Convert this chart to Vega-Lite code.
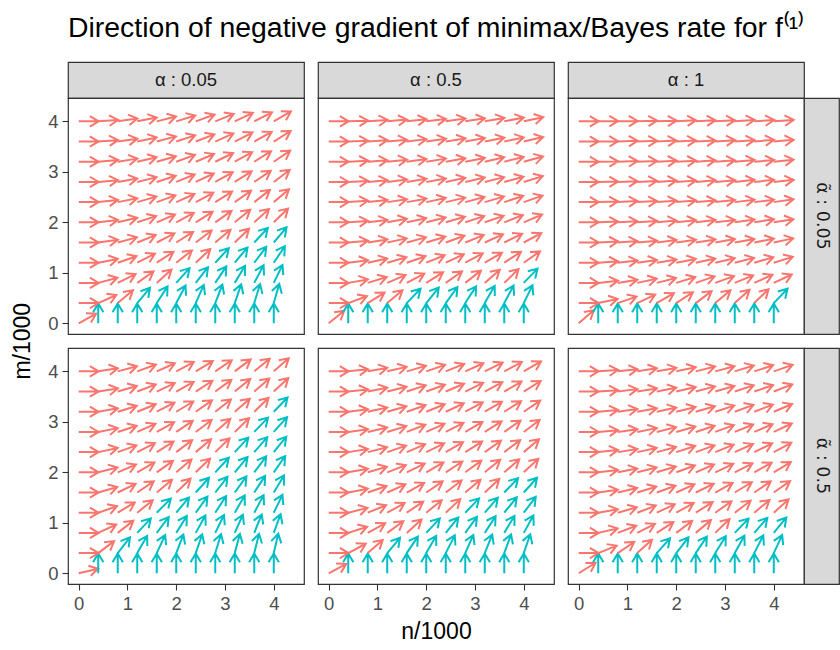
{
"$schema":"https://vega.github.io/schema/vega-lite/v6.json",
"title":{"text":"Direction of negative gradient of minimax/Bayes rate for f⁽¹⁾","anchor":"start","frame":"group","fontSize":28.4,"font":"Liberation Sans","fontWeight":"normal","color":"#000000","offset":18},
"padding":{"left":11,"top":14,"right":0,"bottom":0},
"datasets":{
"p1":[
{"n":0,"m":0,"d":29,"g":"n"},{"n":0.4,"m":0,"d":90,"g":"m"},{"n":0.8,"m":0,"d":90,"g":"m"},{"n":1.2,"m":0,"d":90,"g":"m"},{"n":1.6,"m":0,"d":90,"g":"m"},{"n":2,"m":0,"d":90,"g":"m"},{"n":2.4,"m":0,"d":90,"g":"m"},{"n":2.8,"m":0,"d":90,"g":"m"},{"n":3.2,"m":0,"d":90,"g":"m"},{"n":3.6,"m":0,"d":90,"g":"m"},{"n":4,"m":0,"d":90,"g":"m"},
{"n":0,"m":0.4,"d":0,"g":"n"},{"n":0.4,"m":0.4,"d":24,"g":"n"},{"n":0.8,"m":0.4,"d":40,"g":"n"},{"n":1.2,"m":0.4,"d":50,"g":"m"},{"n":1.6,"m":0.4,"d":57,"g":"m"},{"n":2,"m":0.4,"d":62,"g":"m"},{"n":2.4,"m":0.4,"d":66,"g":"m"},{"n":2.8,"m":0.4,"d":69,"g":"m"},{"n":3.2,"m":0.4,"d":71,"g":"m"},{"n":3.6,"m":0.4,"d":73,"g":"m"},{"n":4,"m":0.4,"d":74,"g":"m"},
{"n":0,"m":0.8,"d":0,"g":"n"},{"n":0.4,"m":0.8,"d":15,"g":"n"},{"n":0.8,"m":0.8,"d":26,"g":"n"},{"n":1.2,"m":0.8,"d":35,"g":"n"},{"n":1.6,"m":0.8,"d":42,"g":"n"},{"n":2,"m":0.8,"d":48,"g":"m"},{"n":2.4,"m":0.8,"d":52,"g":"m"},{"n":2.8,"m":0.8,"d":56,"g":"m"},{"n":3.2,"m":0.8,"d":59,"g":"m"},{"n":3.6,"m":0.8,"d":62,"g":"m"},{"n":4,"m":0.8,"d":64,"g":"m"},
{"n":0,"m":1.2,"d":0,"g":"n"},{"n":0.4,"m":1.2,"d":11,"g":"n"},{"n":0.8,"m":1.2,"d":19,"g":"n"},{"n":1.2,"m":1.2,"d":27,"g":"n"},{"n":1.6,"m":1.2,"d":33,"g":"n"},{"n":2,"m":1.2,"d":38,"g":"n"},{"n":2.4,"m":1.2,"d":43,"g":"n"},{"n":2.8,"m":1.2,"d":47,"g":"m"},{"n":3.2,"m":1.2,"d":50,"g":"m"},{"n":3.6,"m":1.2,"d":53,"g":"m"},{"n":4,"m":1.2,"d":56,"g":"m"},
{"n":0,"m":1.6,"d":0,"g":"n"},{"n":0.4,"m":1.6,"d":8,"g":"n"},{"n":0.8,"m":1.6,"d":15,"g":"n"},{"n":1.2,"m":1.6,"d":22,"g":"n"},{"n":1.6,"m":1.6,"d":27,"g":"n"},{"n":2,"m":1.6,"d":32,"g":"n"},{"n":2.4,"m":1.6,"d":37,"g":"n"},{"n":2.8,"m":1.6,"d":40,"g":"n"},{"n":3.2,"m":1.6,"d":44,"g":"n"},{"n":3.6,"m":1.6,"d":47,"g":"m"},{"n":4,"m":1.6,"d":50,"g":"m"},
{"n":0,"m":2,"d":0,"g":"n"},{"n":0.4,"m":2,"d":7,"g":"n"},{"n":0.8,"m":2,"d":13,"g":"n"},{"n":1.2,"m":2,"d":18,"g":"n"},{"n":1.6,"m":2,"d":23,"g":"n"},{"n":2,"m":2,"d":28,"g":"n"},{"n":2.4,"m":2,"d":32,"g":"n"},{"n":2.8,"m":2,"d":35,"g":"n"},{"n":3.2,"m":2,"d":39,"g":"n"},{"n":3.6,"m":2,"d":42,"g":"n"},{"n":4,"m":2,"d":44,"g":"n"},
{"n":0,"m":2.4,"d":0,"g":"n"},{"n":0.4,"m":2.4,"d":6,"g":"n"},{"n":0.8,"m":2.4,"d":11,"g":"n"},{"n":1.2,"m":2.4,"d":16,"g":"n"},{"n":1.6,"m":2.4,"d":20,"g":"n"},{"n":2,"m":2.4,"d":24,"g":"n"},{"n":2.4,"m":2.4,"d":28,"g":"n"},{"n":2.8,"m":2.4,"d":32,"g":"n"},{"n":3.2,"m":2.4,"d":35,"g":"n"},{"n":3.6,"m":2.4,"d":38,"g":"n"},{"n":4,"m":2.4,"d":40,"g":"n"},
{"n":0,"m":2.8,"d":0,"g":"n"},{"n":0.4,"m":2.8,"d":5,"g":"n"},{"n":0.8,"m":2.8,"d":10,"g":"n"},{"n":1.2,"m":2.8,"d":14,"g":"n"},{"n":1.6,"m":2.8,"d":18,"g":"n"},{"n":2,"m":2.8,"d":22,"g":"n"},{"n":2.4,"m":2.8,"d":25,"g":"n"},{"n":2.8,"m":2.8,"d":29,"g":"n"},{"n":3.2,"m":2.8,"d":32,"g":"n"},{"n":3.6,"m":2.8,"d":34,"g":"n"},{"n":4,"m":2.8,"d":37,"g":"n"},
{"n":0,"m":3.2,"d":0,"g":"n"},{"n":0.4,"m":3.2,"d":5,"g":"n"},{"n":0.8,"m":3.2,"d":9,"g":"n"},{"n":1.2,"m":3.2,"d":13,"g":"n"},{"n":1.6,"m":3.2,"d":16,"g":"n"},{"n":2,"m":3.2,"d":20,"g":"n"},{"n":2.4,"m":3.2,"d":23,"g":"n"},{"n":2.8,"m":3.2,"d":26,"g":"n"},{"n":3.2,"m":3.2,"d":29,"g":"n"},{"n":3.6,"m":3.2,"d":32,"g":"n"},{"n":4,"m":3.2,"d":34,"g":"n"},
{"n":0,"m":3.6,"d":0,"g":"n"},{"n":0.4,"m":3.6,"d":4,"g":"n"},{"n":0.8,"m":3.6,"d":8,"g":"n"},{"n":1.2,"m":3.6,"d":12,"g":"n"},{"n":1.6,"m":3.6,"d":15,"g":"n"},{"n":2,"m":3.6,"d":18,"g":"n"},{"n":2.4,"m":3.6,"d":21,"g":"n"},{"n":2.8,"m":3.6,"d":24,"g":"n"},{"n":3.2,"m":3.6,"d":27,"g":"n"},{"n":3.6,"m":3.6,"d":29,"g":"n"},{"n":4,"m":3.6,"d":32,"g":"n"},
{"n":0,"m":4,"d":0,"g":"n"},{"n":0.4,"m":4,"d":4,"g":"n"},{"n":0.8,"m":4,"d":8,"g":"n"},{"n":1.2,"m":4,"d":11,"g":"n"},{"n":1.6,"m":4,"d":14,"g":"n"},{"n":2,"m":4,"d":17,"g":"n"},{"n":2.4,"m":4,"d":20,"g":"n"},{"n":2.8,"m":4,"d":22,"g":"n"},{"n":3.2,"m":4,"d":25,"g":"n"},{"n":3.6,"m":4,"d":27,"g":"n"},{"n":4,"m":4,"d":30,"g":"n"}
],
"p2":[
{"n":0,"m":0,"d":39,"g":"n"},{"n":0.4,"m":0,"d":90,"g":"m"},{"n":0.8,"m":0,"d":90,"g":"m"},{"n":1.2,"m":0,"d":90,"g":"m"},{"n":1.6,"m":0,"d":90,"g":"m"},{"n":2,"m":0,"d":90,"g":"m"},{"n":2.4,"m":0,"d":90,"g":"m"},{"n":2.8,"m":0,"d":90,"g":"m"},{"n":3.2,"m":0,"d":90,"g":"m"},{"n":3.6,"m":0,"d":90,"g":"m"},{"n":4,"m":0,"d":90,"g":"m"},
{"n":0,"m":0.4,"d":0,"g":"n"},{"n":0.4,"m":0.4,"d":20,"g":"n"},{"n":0.8,"m":0.4,"d":32,"g":"n"},{"n":1.2,"m":0.4,"d":40,"g":"n"},{"n":1.6,"m":0.4,"d":46,"g":"m"},{"n":2,"m":0.4,"d":51,"g":"m"},{"n":2.4,"m":0.4,"d":54,"g":"m"},{"n":2.8,"m":0.4,"d":57,"g":"m"},{"n":3.2,"m":0.4,"d":60,"g":"m"},{"n":3.6,"m":0.4,"d":62,"g":"m"},{"n":4,"m":0.4,"d":64,"g":"m"},
{"n":0,"m":0.8,"d":0,"g":"n"},{"n":0.4,"m":0.8,"d":10,"g":"n"},{"n":0.8,"m":0.8,"d":17,"g":"n"},{"n":1.2,"m":0.8,"d":23,"g":"n"},{"n":1.6,"m":0.8,"d":28,"g":"n"},{"n":2,"m":0.8,"d":32,"g":"n"},{"n":2.4,"m":0.8,"d":35,"g":"n"},{"n":2.8,"m":0.8,"d":38,"g":"n"},{"n":3.2,"m":0.8,"d":41,"g":"n"},{"n":3.6,"m":0.8,"d":44,"g":"n"},{"n":4,"m":0.8,"d":46,"g":"m"},
{"n":0,"m":1.2,"d":0,"g":"n"},{"n":0.4,"m":1.2,"d":7,"g":"n"},{"n":0.8,"m":1.2,"d":12,"g":"n"},{"n":1.2,"m":1.2,"d":16,"g":"n"},{"n":1.6,"m":1.2,"d":19,"g":"n"},{"n":2,"m":1.2,"d":22,"g":"n"},{"n":2.4,"m":1.2,"d":25,"g":"n"},{"n":2.8,"m":1.2,"d":28,"g":"n"},{"n":3.2,"m":1.2,"d":30,"g":"n"},{"n":3.6,"m":1.2,"d":33,"g":"n"},{"n":4,"m":1.2,"d":35,"g":"n"},
{"n":0,"m":1.6,"d":0,"g":"n"},{"n":0.4,"m":1.6,"d":5,"g":"n"},{"n":0.8,"m":1.6,"d":9,"g":"n"},{"n":1.2,"m":1.6,"d":12,"g":"n"},{"n":1.6,"m":1.6,"d":15,"g":"n"},{"n":2,"m":1.6,"d":17,"g":"n"},{"n":2.4,"m":1.6,"d":20,"g":"n"},{"n":2.8,"m":1.6,"d":22,"g":"n"},{"n":3.2,"m":1.6,"d":24,"g":"n"},{"n":3.6,"m":1.6,"d":26,"g":"n"},{"n":4,"m":1.6,"d":28,"g":"n"},
{"n":0,"m":2,"d":0,"g":"n"},{"n":0.4,"m":2,"d":4,"g":"n"},{"n":0.8,"m":2,"d":7,"g":"n"},{"n":1.2,"m":2,"d":10,"g":"n"},{"n":1.6,"m":2,"d":12,"g":"n"},{"n":2,"m":2,"d":14,"g":"n"},{"n":2.4,"m":2,"d":16,"g":"n"},{"n":2.8,"m":2,"d":18,"g":"n"},{"n":3.2,"m":2,"d":19,"g":"n"},{"n":3.6,"m":2,"d":21,"g":"n"},{"n":4,"m":2,"d":23,"g":"n"},
{"n":0,"m":2.4,"d":0,"g":"n"},{"n":0.4,"m":2.4,"d":4,"g":"n"},{"n":0.8,"m":2.4,"d":6,"g":"n"},{"n":1.2,"m":2.4,"d":8,"g":"n"},{"n":1.6,"m":2.4,"d":10,"g":"n"},{"n":2,"m":2.4,"d":12,"g":"n"},{"n":2.4,"m":2.4,"d":13,"g":"n"},{"n":2.8,"m":2.4,"d":15,"g":"n"},{"n":3.2,"m":2.4,"d":16,"g":"n"},{"n":3.6,"m":2.4,"d":18,"g":"n"},{"n":4,"m":2.4,"d":19,"g":"n"},
{"n":0,"m":2.8,"d":0,"g":"n"},{"n":0.4,"m":2.8,"d":3,"g":"n"},{"n":0.8,"m":2.8,"d":5,"g":"n"},{"n":1.2,"m":2.8,"d":7,"g":"n"},{"n":1.6,"m":2.8,"d":9,"g":"n"},{"n":2,"m":2.8,"d":10,"g":"n"},{"n":2.4,"m":2.8,"d":12,"g":"n"},{"n":2.8,"m":2.8,"d":13,"g":"n"},{"n":3.2,"m":2.8,"d":14,"g":"n"},{"n":3.6,"m":2.8,"d":15,"g":"n"},{"n":4,"m":2.8,"d":17,"g":"n"},
{"n":0,"m":3.2,"d":0,"g":"n"},{"n":0.4,"m":3.2,"d":3,"g":"n"},{"n":0.8,"m":3.2,"d":4,"g":"n"},{"n":1.2,"m":3.2,"d":6,"g":"n"},{"n":1.6,"m":3.2,"d":8,"g":"n"},{"n":2,"m":3.2,"d":9,"g":"n"},{"n":2.4,"m":3.2,"d":10,"g":"n"},{"n":2.8,"m":3.2,"d":11,"g":"n"},{"n":3.2,"m":3.2,"d":13,"g":"n"},{"n":3.6,"m":3.2,"d":14,"g":"n"},{"n":4,"m":3.2,"d":15,"g":"n"},
{"n":0,"m":3.6,"d":0,"g":"n"},{"n":0.4,"m":3.6,"d":2,"g":"n"},{"n":0.8,"m":3.6,"d":4,"g":"n"},{"n":1.2,"m":3.6,"d":5,"g":"n"},{"n":1.6,"m":3.6,"d":7,"g":"n"},{"n":2,"m":3.6,"d":8,"g":"n"},{"n":2.4,"m":3.6,"d":9,"g":"n"},{"n":2.8,"m":3.6,"d":10,"g":"n"},{"n":3.2,"m":3.6,"d":11,"g":"n"},{"n":3.6,"m":3.6,"d":12,"g":"n"},{"n":4,"m":3.6,"d":13,"g":"n"},
{"n":0,"m":4,"d":0,"g":"n"},{"n":0.4,"m":4,"d":2,"g":"n"},{"n":0.8,"m":4,"d":4,"g":"n"},{"n":1.2,"m":4,"d":5,"g":"n"},{"n":1.6,"m":4,"d":6,"g":"n"},{"n":2,"m":4,"d":7,"g":"n"},{"n":2.4,"m":4,"d":8,"g":"n"},{"n":2.8,"m":4,"d":9,"g":"n"},{"n":3.2,"m":4,"d":10,"g":"n"},{"n":3.6,"m":4,"d":11,"g":"n"},{"n":4,"m":4,"d":12,"g":"n"}
],
"p3":[
{"n":0,"m":0,"d":41,"g":"n"},{"n":0.4,"m":0,"d":90,"g":"m"},{"n":0.8,"m":0,"d":90,"g":"m"},{"n":1.2,"m":0,"d":90,"g":"m"},{"n":1.6,"m":0,"d":90,"g":"m"},{"n":2,"m":0,"d":90,"g":"m"},{"n":2.4,"m":0,"d":90,"g":"m"},{"n":2.8,"m":0,"d":90,"g":"m"},{"n":3.2,"m":0,"d":90,"g":"m"},{"n":3.6,"m":0,"d":90,"g":"m"},{"n":4,"m":0,"d":90,"g":"m"},
{"n":0,"m":0.4,"d":0,"g":"n"},{"n":0.4,"m":0.4,"d":12,"g":"n"},{"n":0.8,"m":0.4,"d":19,"g":"n"},{"n":1.2,"m":0.4,"d":25,"g":"n"},{"n":1.6,"m":0.4,"d":30,"g":"n"},{"n":2,"m":0.4,"d":33,"g":"n"},{"n":2.4,"m":0.4,"d":37,"g":"n"},{"n":2.8,"m":0.4,"d":40,"g":"n"},{"n":3.2,"m":0.4,"d":42,"g":"n"},{"n":3.6,"m":0.4,"d":44,"g":"n"},{"n":4,"m":0.4,"d":46,"g":"m"},
{"n":0,"m":0.8,"d":0,"g":"n"},{"n":0.4,"m":0.8,"d":6,"g":"n"},{"n":0.8,"m":0.8,"d":9,"g":"n"},{"n":1.2,"m":0.8,"d":12,"g":"n"},{"n":1.6,"m":0.8,"d":14,"g":"n"},{"n":2,"m":0.8,"d":17,"g":"n"},{"n":2.4,"m":0.8,"d":19,"g":"n"},{"n":2.8,"m":0.8,"d":20,"g":"n"},{"n":3.2,"m":0.8,"d":22,"g":"n"},{"n":3.6,"m":0.8,"d":24,"g":"n"},{"n":4,"m":0.8,"d":25,"g":"n"},
{"n":0,"m":1.2,"d":0,"g":"n"},{"n":0.4,"m":1.2,"d":4,"g":"n"},{"n":0.8,"m":1.2,"d":6,"g":"n"},{"n":1.2,"m":1.2,"d":8,"g":"n"},{"n":1.6,"m":1.2,"d":9,"g":"n"},{"n":2,"m":1.2,"d":11,"g":"n"},{"n":2.4,"m":1.2,"d":12,"g":"n"},{"n":2.8,"m":1.2,"d":13,"g":"n"},{"n":3.2,"m":1.2,"d":14,"g":"n"},{"n":3.6,"m":1.2,"d":16,"g":"n"},{"n":4,"m":1.2,"d":17,"g":"n"},
{"n":0,"m":1.6,"d":0,"g":"n"},{"n":0.4,"m":1.6,"d":3,"g":"n"},{"n":0.8,"m":1.6,"d":4,"g":"n"},{"n":1.2,"m":1.6,"d":5,"g":"n"},{"n":1.6,"m":1.6,"d":7,"g":"n"},{"n":2,"m":1.6,"d":8,"g":"n"},{"n":2.4,"m":1.6,"d":9,"g":"n"},{"n":2.8,"m":1.6,"d":10,"g":"n"},{"n":3.2,"m":1.6,"d":10,"g":"n"},{"n":3.6,"m":1.6,"d":11,"g":"n"},{"n":4,"m":1.6,"d":12,"g":"n"},
{"n":0,"m":2,"d":0,"g":"n"},{"n":0.4,"m":2,"d":2,"g":"n"},{"n":0.8,"m":2,"d":3,"g":"n"},{"n":1.2,"m":2,"d":4,"g":"n"},{"n":1.6,"m":2,"d":5,"g":"n"},{"n":2,"m":2,"d":6,"g":"n"},{"n":2.4,"m":2,"d":7,"g":"n"},{"n":2.8,"m":2,"d":7,"g":"n"},{"n":3.2,"m":2,"d":8,"g":"n"},{"n":3.6,"m":2,"d":9,"g":"n"},{"n":4,"m":2,"d":9,"g":"n"},
{"n":0,"m":2.4,"d":0,"g":"n"},{"n":0.4,"m":2.4,"d":2,"g":"n"},{"n":0.8,"m":2.4,"d":3,"g":"n"},{"n":1.2,"m":2.4,"d":3,"g":"n"},{"n":1.6,"m":2.4,"d":4,"g":"n"},{"n":2,"m":2.4,"d":5,"g":"n"},{"n":2.4,"m":2.4,"d":5,"g":"n"},{"n":2.8,"m":2.4,"d":6,"g":"n"},{"n":3.2,"m":2.4,"d":7,"g":"n"},{"n":3.6,"m":2.4,"d":7,"g":"n"},{"n":4,"m":2.4,"d":8,"g":"n"},
{"n":0,"m":2.8,"d":0,"g":"n"},{"n":0.4,"m":2.8,"d":1,"g":"n"},{"n":0.8,"m":2.8,"d":2,"g":"n"},{"n":1.2,"m":2.8,"d":3,"g":"n"},{"n":1.6,"m":2.8,"d":4,"g":"n"},{"n":2,"m":2.8,"d":4,"g":"n"},{"n":2.4,"m":2.8,"d":5,"g":"n"},{"n":2.8,"m":2.8,"d":5,"g":"n"},{"n":3.2,"m":2.8,"d":6,"g":"n"},{"n":3.6,"m":2.8,"d":6,"g":"n"},{"n":4,"m":2.8,"d":6,"g":"n"},
{"n":0,"m":3.2,"d":0,"g":"n"},{"n":0.4,"m":3.2,"d":1,"g":"n"},{"n":0.8,"m":3.2,"d":2,"g":"n"},{"n":1.2,"m":3.2,"d":2,"g":"n"},{"n":1.6,"m":3.2,"d":3,"g":"n"},{"n":2,"m":3.2,"d":3,"g":"n"},{"n":2.4,"m":3.2,"d":4,"g":"n"},{"n":2.8,"m":3.2,"d":4,"g":"n"},{"n":3.2,"m":3.2,"d":5,"g":"n"},{"n":3.6,"m":3.2,"d":5,"g":"n"},{"n":4,"m":3.2,"d":6,"g":"n"},
{"n":0,"m":3.6,"d":0,"g":"n"},{"n":0.4,"m":3.6,"d":1,"g":"n"},{"n":0.8,"m":3.6,"d":2,"g":"n"},{"n":1.2,"m":3.6,"d":2,"g":"n"},{"n":1.6,"m":3.6,"d":3,"g":"n"},{"n":2,"m":3.6,"d":3,"g":"n"},{"n":2.4,"m":3.6,"d":3,"g":"n"},{"n":2.8,"m":3.6,"d":4,"g":"n"},{"n":3.2,"m":3.6,"d":4,"g":"n"},{"n":3.6,"m":3.6,"d":5,"g":"n"},{"n":4,"m":3.6,"d":5,"g":"n"},
{"n":0,"m":4,"d":0,"g":"n"},{"n":0.4,"m":4,"d":1,"g":"n"},{"n":0.8,"m":4,"d":1,"g":"n"},{"n":1.2,"m":4,"d":2,"g":"n"},{"n":1.6,"m":4,"d":2,"g":"n"},{"n":2,"m":4,"d":3,"g":"n"},{"n":2.4,"m":4,"d":3,"g":"n"},{"n":2.8,"m":4,"d":3,"g":"n"},{"n":3.2,"m":4,"d":4,"g":"n"},{"n":3.6,"m":4,"d":4,"g":"n"},{"n":4,"m":4,"d":4,"g":"n"}
],
"p4":[
{"n":0,"m":0,"d":13,"g":"n"},{"n":0.4,"m":0,"d":90,"g":"m"},{"n":0.8,"m":0,"d":90,"g":"m"},{"n":1.2,"m":0,"d":90,"g":"m"},{"n":1.6,"m":0,"d":90,"g":"m"},{"n":2,"m":0,"d":90,"g":"m"},{"n":2.4,"m":0,"d":90,"g":"m"},{"n":2.8,"m":0,"d":90,"g":"m"},{"n":3.2,"m":0,"d":90,"g":"m"},{"n":3.6,"m":0,"d":90,"g":"m"},{"n":4,"m":0,"d":90,"g":"m"},
{"n":0,"m":0.4,"d":0,"g":"n"},{"n":0.4,"m":0.4,"d":37,"g":"n"},{"n":0.8,"m":0.4,"d":52,"g":"m"},{"n":1.2,"m":0.4,"d":60,"g":"m"},{"n":1.6,"m":0.4,"d":65,"g":"m"},{"n":2,"m":0.4,"d":69,"g":"m"},{"n":2.4,"m":0.4,"d":71,"g":"m"},{"n":2.8,"m":0.4,"d":73,"g":"m"},{"n":3.2,"m":0.4,"d":75,"g":"m"},{"n":3.6,"m":0.4,"d":76,"g":"m"},{"n":4,"m":0.4,"d":77,"g":"m"},
{"n":0,"m":0.8,"d":0,"g":"n"},{"n":0.4,"m":0.8,"d":25,"g":"n"},{"n":0.8,"m":0.8,"d":38,"g":"n"},{"n":1.2,"m":0.8,"d":47,"g":"m"},{"n":1.6,"m":0.8,"d":53,"g":"m"},{"n":2,"m":0.8,"d":58,"g":"m"},{"n":2.4,"m":0.8,"d":61,"g":"m"},{"n":2.8,"m":0.8,"d":64,"g":"m"},{"n":3.2,"m":0.8,"d":66,"g":"m"},{"n":3.6,"m":0.8,"d":68,"g":"m"},{"n":4,"m":0.8,"d":70,"g":"m"},
{"n":0,"m":1.2,"d":0,"g":"n"},{"n":0.4,"m":1.2,"d":19,"g":"n"},{"n":0.8,"m":1.2,"d":31,"g":"n"},{"n":1.2,"m":1.2,"d":39,"g":"n"},{"n":1.6,"m":1.2,"d":45,"g":"m"},{"n":2,"m":1.2,"d":50,"g":"m"},{"n":2.4,"m":1.2,"d":54,"g":"m"},{"n":2.8,"m":1.2,"d":57,"g":"m"},{"n":3.2,"m":1.2,"d":60,"g":"m"},{"n":3.6,"m":1.2,"d":62,"g":"m"},{"n":4,"m":1.2,"d":64,"g":"m"},
{"n":0,"m":1.6,"d":0,"g":"n"},{"n":0.4,"m":1.6,"d":16,"g":"n"},{"n":0.8,"m":1.6,"d":26,"g":"n"},{"n":1.2,"m":1.6,"d":34,"g":"n"},{"n":1.6,"m":1.6,"d":40,"g":"n"},{"n":2,"m":1.6,"d":44,"g":"n"},{"n":2.4,"m":1.6,"d":48,"g":"m"},{"n":2.8,"m":1.6,"d":52,"g":"m"},{"n":3.2,"m":1.6,"d":54,"g":"m"},{"n":3.6,"m":1.6,"d":57,"g":"m"},{"n":4,"m":1.6,"d":59,"g":"m"},
{"n":0,"m":2,"d":0,"g":"n"},{"n":0.4,"m":2,"d":14,"g":"n"},{"n":0.8,"m":2,"d":23,"g":"n"},{"n":1.2,"m":2,"d":30,"g":"n"},{"n":1.6,"m":2,"d":35,"g":"n"},{"n":2,"m":2,"d":40,"g":"n"},{"n":2.4,"m":2,"d":44,"g":"n"},{"n":2.8,"m":2,"d":47,"g":"m"},{"n":3.2,"m":2,"d":50,"g":"m"},{"n":3.6,"m":2,"d":53,"g":"m"},{"n":4,"m":2,"d":55,"g":"m"},
{"n":0,"m":2.4,"d":0,"g":"n"},{"n":0.4,"m":2.4,"d":12,"g":"n"},{"n":0.8,"m":2.4,"d":20,"g":"n"},{"n":1.2,"m":2.4,"d":27,"g":"n"},{"n":1.6,"m":2.4,"d":32,"g":"n"},{"n":2,"m":2.4,"d":37,"g":"n"},{"n":2.4,"m":2.4,"d":40,"g":"n"},{"n":2.8,"m":2.4,"d":44,"g":"n"},{"n":3.2,"m":2.4,"d":47,"g":"m"},{"n":3.6,"m":2.4,"d":49,"g":"m"},{"n":4,"m":2.4,"d":51,"g":"m"},
{"n":0,"m":2.8,"d":0,"g":"n"},{"n":0.4,"m":2.8,"d":11,"g":"n"},{"n":0.8,"m":2.8,"d":18,"g":"n"},{"n":1.2,"m":2.8,"d":24,"g":"n"},{"n":1.6,"m":2.8,"d":29,"g":"n"},{"n":2,"m":2.8,"d":34,"g":"n"},{"n":2.4,"m":2.8,"d":37,"g":"n"},{"n":2.8,"m":2.8,"d":41,"g":"n"},{"n":3.2,"m":2.8,"d":44,"g":"n"},{"n":3.6,"m":2.8,"d":46,"g":"m"},{"n":4,"m":2.8,"d":48,"g":"m"},
{"n":0,"m":3.2,"d":0,"g":"n"},{"n":0.4,"m":3.2,"d":10,"g":"n"},{"n":0.8,"m":3.2,"d":17,"g":"n"},{"n":1.2,"m":3.2,"d":22,"g":"n"},{"n":1.6,"m":3.2,"d":27,"g":"n"},{"n":2,"m":3.2,"d":31,"g":"n"},{"n":2.4,"m":3.2,"d":35,"g":"n"},{"n":2.8,"m":3.2,"d":38,"g":"n"},{"n":3.2,"m":3.2,"d":41,"g":"n"},{"n":3.6,"m":3.2,"d":44,"g":"n"},{"n":4,"m":3.2,"d":46,"g":"m"},
{"n":0,"m":3.6,"d":0,"g":"n"},{"n":0.4,"m":3.6,"d":9,"g":"n"},{"n":0.8,"m":3.6,"d":16,"g":"n"},{"n":1.2,"m":3.6,"d":21,"g":"n"},{"n":1.6,"m":3.6,"d":25,"g":"n"},{"n":2,"m":3.6,"d":29,"g":"n"},{"n":2.4,"m":3.6,"d":33,"g":"n"},{"n":2.8,"m":3.6,"d":36,"g":"n"},{"n":3.2,"m":3.6,"d":39,"g":"n"},{"n":3.6,"m":3.6,"d":41,"g":"n"},{"n":4,"m":3.6,"d":43,"g":"n"},
{"n":0,"m":4,"d":0,"g":"n"},{"n":0.4,"m":4,"d":9,"g":"n"},{"n":0.8,"m":4,"d":15,"g":"n"},{"n":1.2,"m":4,"d":20,"g":"n"},{"n":1.6,"m":4,"d":24,"g":"n"},{"n":2,"m":4,"d":28,"g":"n"},{"n":2.4,"m":4,"d":31,"g":"n"},{"n":2.8,"m":4,"d":34,"g":"n"},{"n":3.2,"m":4,"d":37,"g":"n"},{"n":3.6,"m":4,"d":39,"g":"n"},{"n":4,"m":4,"d":41,"g":"n"}
],
"p5":[
{"n":0,"m":0,"d":28,"g":"n"},{"n":0.4,"m":0,"d":90,"g":"m"},{"n":0.8,"m":0,"d":90,"g":"m"},{"n":1.2,"m":0,"d":90,"g":"m"},{"n":1.6,"m":0,"d":90,"g":"m"},{"n":2,"m":0,"d":90,"g":"m"},{"n":2.4,"m":0,"d":90,"g":"m"},{"n":2.8,"m":0,"d":90,"g":"m"},{"n":3.2,"m":0,"d":90,"g":"m"},{"n":3.6,"m":0,"d":90,"g":"m"},{"n":4,"m":0,"d":90,"g":"m"},
{"n":0,"m":0.4,"d":0,"g":"n"},{"n":0.4,"m":0.4,"d":28,"g":"n"},{"n":0.8,"m":0.4,"d":41,"g":"n"},{"n":1.2,"m":0.4,"d":50,"g":"m"},{"n":1.6,"m":0.4,"d":56,"g":"m"},{"n":2,"m":0.4,"d":60,"g":"m"},{"n":2.4,"m":0.4,"d":63,"g":"m"},{"n":2.8,"m":0.4,"d":66,"g":"m"},{"n":3.2,"m":0.4,"d":68,"g":"m"},{"n":3.6,"m":0.4,"d":70,"g":"m"},{"n":4,"m":0.4,"d":71,"g":"m"},
{"n":0,"m":0.8,"d":0,"g":"n"},{"n":0.4,"m":0.8,"d":18,"g":"n"},{"n":0.8,"m":0.8,"d":29,"g":"n"},{"n":1.2,"m":0.8,"d":36,"g":"n"},{"n":1.6,"m":0.8,"d":42,"g":"n"},{"n":2,"m":0.8,"d":47,"g":"m"},{"n":2.4,"m":0.8,"d":51,"g":"m"},{"n":2.8,"m":0.8,"d":54,"g":"m"},{"n":3.2,"m":0.8,"d":57,"g":"m"},{"n":3.6,"m":0.8,"d":59,"g":"m"},{"n":4,"m":0.8,"d":61,"g":"m"},
{"n":0,"m":1.2,"d":0,"g":"n"},{"n":0.4,"m":1.2,"d":14,"g":"n"},{"n":0.8,"m":1.2,"d":22,"g":"n"},{"n":1.2,"m":1.2,"d":29,"g":"n"},{"n":1.6,"m":1.2,"d":34,"g":"n"},{"n":2,"m":1.2,"d":39,"g":"n"},{"n":2.4,"m":1.2,"d":43,"g":"n"},{"n":2.8,"m":1.2,"d":46,"g":"m"},{"n":3.2,"m":1.2,"d":49,"g":"m"},{"n":3.6,"m":1.2,"d":51,"g":"m"},{"n":4,"m":1.2,"d":53,"g":"m"},
{"n":0,"m":1.6,"d":0,"g":"n"},{"n":0.4,"m":1.6,"d":11,"g":"n"},{"n":0.8,"m":1.6,"d":19,"g":"n"},{"n":1.2,"m":1.6,"d":24,"g":"n"},{"n":1.6,"m":1.6,"d":29,"g":"n"},{"n":2,"m":1.6,"d":34,"g":"n"},{"n":2.4,"m":1.6,"d":37,"g":"n"},{"n":2.8,"m":1.6,"d":40,"g":"n"},{"n":3.2,"m":1.6,"d":43,"g":"n"},{"n":3.6,"m":1.6,"d":46,"g":"m"},{"n":4,"m":1.6,"d":48,"g":"m"},
{"n":0,"m":2,"d":0,"g":"n"},{"n":0.4,"m":2,"d":10,"g":"n"},{"n":0.8,"m":2,"d":16,"g":"n"},{"n":1.2,"m":2,"d":21,"g":"n"},{"n":1.6,"m":2,"d":26,"g":"n"},{"n":2,"m":2,"d":30,"g":"n"},{"n":2.4,"m":2,"d":33,"g":"n"},{"n":2.8,"m":2,"d":36,"g":"n"},{"n":3.2,"m":2,"d":39,"g":"n"},{"n":3.6,"m":2,"d":41,"g":"n"},{"n":4,"m":2,"d":43,"g":"n"},
{"n":0,"m":2.4,"d":0,"g":"n"},{"n":0.4,"m":2.4,"d":9,"g":"n"},{"n":0.8,"m":2.4,"d":14,"g":"n"},{"n":1.2,"m":2.4,"d":19,"g":"n"},{"n":1.6,"m":2.4,"d":23,"g":"n"},{"n":2,"m":2.4,"d":26,"g":"n"},{"n":2.4,"m":2.4,"d":30,"g":"n"},{"n":2.8,"m":2.4,"d":32,"g":"n"},{"n":3.2,"m":2.4,"d":35,"g":"n"},{"n":3.6,"m":2.4,"d":37,"g":"n"},{"n":4,"m":2.4,"d":40,"g":"n"},
{"n":0,"m":2.8,"d":0,"g":"n"},{"n":0.4,"m":2.8,"d":8,"g":"n"},{"n":0.8,"m":2.8,"d":13,"g":"n"},{"n":1.2,"m":2.8,"d":17,"g":"n"},{"n":1.6,"m":2.8,"d":21,"g":"n"},{"n":2,"m":2.8,"d":24,"g":"n"},{"n":2.4,"m":2.8,"d":27,"g":"n"},{"n":2.8,"m":2.8,"d":30,"g":"n"},{"n":3.2,"m":2.8,"d":32,"g":"n"},{"n":3.6,"m":2.8,"d":35,"g":"n"},{"n":4,"m":2.8,"d":37,"g":"n"},
{"n":0,"m":3.2,"d":0,"g":"n"},{"n":0.4,"m":3.2,"d":7,"g":"n"},{"n":0.8,"m":3.2,"d":12,"g":"n"},{"n":1.2,"m":3.2,"d":16,"g":"n"},{"n":1.6,"m":3.2,"d":19,"g":"n"},{"n":2,"m":3.2,"d":22,"g":"n"},{"n":2.4,"m":3.2,"d":25,"g":"n"},{"n":2.8,"m":3.2,"d":28,"g":"n"},{"n":3.2,"m":3.2,"d":30,"g":"n"},{"n":3.6,"m":3.2,"d":32,"g":"n"},{"n":4,"m":3.2,"d":34,"g":"n"},
{"n":0,"m":3.6,"d":0,"g":"n"},{"n":0.4,"m":3.6,"d":6,"g":"n"},{"n":0.8,"m":3.6,"d":11,"g":"n"},{"n":1.2,"m":3.6,"d":14,"g":"n"},{"n":1.6,"m":3.6,"d":18,"g":"n"},{"n":2,"m":3.6,"d":20,"g":"n"},{"n":2.4,"m":3.6,"d":23,"g":"n"},{"n":2.8,"m":3.6,"d":26,"g":"n"},{"n":3.2,"m":3.6,"d":28,"g":"n"},{"n":3.6,"m":3.6,"d":30,"g":"n"},{"n":4,"m":3.6,"d":32,"g":"n"},
{"n":0,"m":4,"d":0,"g":"n"},{"n":0.4,"m":4,"d":6,"g":"n"},{"n":0.8,"m":4,"d":10,"g":"n"},{"n":1.2,"m":4,"d":13,"g":"n"},{"n":1.6,"m":4,"d":16,"g":"n"},{"n":2,"m":4,"d":19,"g":"n"},{"n":2.4,"m":4,"d":22,"g":"n"},{"n":2.8,"m":4,"d":24,"g":"n"},{"n":3.2,"m":4,"d":26,"g":"n"},{"n":3.6,"m":4,"d":28,"g":"n"},{"n":4,"m":4,"d":30,"g":"n"}
],
"p6":[
{"n":0,"m":0,"d":32,"g":"n"},{"n":0.4,"m":0,"d":90,"g":"m"},{"n":0.8,"m":0,"d":90,"g":"m"},{"n":1.2,"m":0,"d":90,"g":"m"},{"n":1.6,"m":0,"d":90,"g":"m"},{"n":2,"m":0,"d":90,"g":"m"},{"n":2.4,"m":0,"d":90,"g":"m"},{"n":2.8,"m":0,"d":90,"g":"m"},{"n":3.2,"m":0,"d":90,"g":"m"},{"n":3.6,"m":0,"d":90,"g":"m"},{"n":4,"m":0,"d":90,"g":"m"},
{"n":0,"m":0.4,"d":0,"g":"n"},{"n":0.4,"m":0.4,"d":22,"g":"n"},{"n":0.8,"m":0.4,"d":34,"g":"n"},{"n":1.2,"m":0.4,"d":42,"g":"n"},{"n":1.6,"m":0.4,"d":48,"g":"m"},{"n":2,"m":0.4,"d":52,"g":"m"},{"n":2.4,"m":0.4,"d":56,"g":"m"},{"n":2.8,"m":0.4,"d":58,"g":"m"},{"n":3.2,"m":0.4,"d":61,"g":"m"},{"n":3.6,"m":0.4,"d":63,"g":"m"},{"n":4,"m":0.4,"d":65,"g":"m"},
{"n":0,"m":0.8,"d":0,"g":"n"},{"n":0.4,"m":0.8,"d":13,"g":"n"},{"n":0.8,"m":0.8,"d":21,"g":"n"},{"n":1.2,"m":0.8,"d":27,"g":"n"},{"n":1.6,"m":0.8,"d":33,"g":"n"},{"n":2,"m":0.8,"d":37,"g":"n"},{"n":2.4,"m":0.8,"d":40,"g":"n"},{"n":2.8,"m":0.8,"d":44,"g":"n"},{"n":3.2,"m":0.8,"d":46,"g":"m"},{"n":3.6,"m":0.8,"d":49,"g":"m"},{"n":4,"m":0.8,"d":51,"g":"m"},
{"n":0,"m":1.2,"d":0,"g":"n"},{"n":0.4,"m":1.2,"d":10,"g":"n"},{"n":0.8,"m":1.2,"d":16,"g":"n"},{"n":1.2,"m":1.2,"d":21,"g":"n"},{"n":1.6,"m":1.2,"d":25,"g":"n"},{"n":2,"m":1.2,"d":29,"g":"n"},{"n":2.4,"m":1.2,"d":32,"g":"n"},{"n":2.8,"m":1.2,"d":35,"g":"n"},{"n":3.2,"m":1.2,"d":37,"g":"n"},{"n":3.6,"m":1.2,"d":40,"g":"n"},{"n":4,"m":1.2,"d":42,"g":"n"},
{"n":0,"m":1.6,"d":0,"g":"n"},{"n":0.4,"m":1.6,"d":8,"g":"n"},{"n":0.8,"m":1.6,"d":13,"g":"n"},{"n":1.2,"m":1.6,"d":17,"g":"n"},{"n":1.6,"m":1.6,"d":20,"g":"n"},{"n":2,"m":1.6,"d":24,"g":"n"},{"n":2.4,"m":1.6,"d":26,"g":"n"},{"n":2.8,"m":1.6,"d":29,"g":"n"},{"n":3.2,"m":1.6,"d":31,"g":"n"},{"n":3.6,"m":1.6,"d":34,"g":"n"},{"n":4,"m":1.6,"d":35,"g":"n"},
{"n":0,"m":2,"d":0,"g":"n"},{"n":0.4,"m":2,"d":7,"g":"n"},{"n":0.8,"m":2,"d":11,"g":"n"},{"n":1.2,"m":2,"d":14,"g":"n"},{"n":1.6,"m":2,"d":17,"g":"n"},{"n":2,"m":2,"d":20,"g":"n"},{"n":2.4,"m":2,"d":23,"g":"n"},{"n":2.8,"m":2,"d":25,"g":"n"},{"n":3.2,"m":2,"d":27,"g":"n"},{"n":3.6,"m":2,"d":29,"g":"n"},{"n":4,"m":2,"d":31,"g":"n"},
{"n":0,"m":2.4,"d":0,"g":"n"},{"n":0.4,"m":2.4,"d":6,"g":"n"},{"n":0.8,"m":2.4,"d":9,"g":"n"},{"n":1.2,"m":2.4,"d":12,"g":"n"},{"n":1.6,"m":2.4,"d":15,"g":"n"},{"n":2,"m":2.4,"d":18,"g":"n"},{"n":2.4,"m":2.4,"d":20,"g":"n"},{"n":2.8,"m":2.4,"d":22,"g":"n"},{"n":3.2,"m":2.4,"d":24,"g":"n"},{"n":3.6,"m":2.4,"d":26,"g":"n"},{"n":4,"m":2.4,"d":28,"g":"n"},
{"n":0,"m":2.8,"d":0,"g":"n"},{"n":0.4,"m":2.8,"d":5,"g":"n"},{"n":0.8,"m":2.8,"d":8,"g":"n"},{"n":1.2,"m":2.8,"d":11,"g":"n"},{"n":1.6,"m":2.8,"d":14,"g":"n"},{"n":2,"m":2.8,"d":16,"g":"n"},{"n":2.4,"m":2.8,"d":18,"g":"n"},{"n":2.8,"m":2.8,"d":20,"g":"n"},{"n":3.2,"m":2.8,"d":22,"g":"n"},{"n":3.6,"m":2.8,"d":23,"g":"n"},{"n":4,"m":2.8,"d":25,"g":"n"},
{"n":0,"m":3.2,"d":0,"g":"n"},{"n":0.4,"m":3.2,"d":5,"g":"n"},{"n":0.8,"m":3.2,"d":8,"g":"n"},{"n":1.2,"m":3.2,"d":10,"g":"n"},{"n":1.6,"m":3.2,"d":12,"g":"n"},{"n":2,"m":3.2,"d":14,"g":"n"},{"n":2.4,"m":3.2,"d":16,"g":"n"},{"n":2.8,"m":3.2,"d":18,"g":"n"},{"n":3.2,"m":3.2,"d":20,"g":"n"},{"n":3.6,"m":3.2,"d":21,"g":"n"},{"n":4,"m":3.2,"d":23,"g":"n"},
{"n":0,"m":3.6,"d":0,"g":"n"},{"n":0.4,"m":3.6,"d":4,"g":"n"},{"n":0.8,"m":3.6,"d":7,"g":"n"},{"n":1.2,"m":3.6,"d":9,"g":"n"},{"n":1.6,"m":3.6,"d":11,"g":"n"},{"n":2,"m":3.6,"d":13,"g":"n"},{"n":2.4,"m":3.6,"d":15,"g":"n"},{"n":2.8,"m":3.6,"d":16,"g":"n"},{"n":3.2,"m":3.6,"d":18,"g":"n"},{"n":3.6,"m":3.6,"d":19,"g":"n"},{"n":4,"m":3.6,"d":21,"g":"n"},
{"n":0,"m":4,"d":0,"g":"n"},{"n":0.4,"m":4,"d":4,"g":"n"},{"n":0.8,"m":4,"d":6,"g":"n"},{"n":1.2,"m":4,"d":9,"g":"n"},{"n":1.6,"m":4,"d":10,"g":"n"},{"n":2,"m":4,"d":12,"g":"n"},{"n":2.4,"m":4,"d":14,"g":"n"},{"n":2.8,"m":4,"d":15,"g":"n"},{"n":3.2,"m":4,"d":17,"g":"n"},{"n":3.6,"m":4,"d":18,"g":"n"},{"n":4,"m":4,"d":19,"g":"n"}
]
},
"columns":6,
"spacing":0,
"bounds":"flush",
"concat":[
{"width":236,"height":36,"data":{"values":[{"lab":"α : 0.05"}]},"view":{"fill":"#D9D9D9","stroke":"#333333","strokeWidth":1.2},"mark":{"type":"text","fontSize":18.5,"color":"#1A1A1A","font":"Liberation Sans"},"encoding":{"text":{"field":"lab"}}},
{"width":13.4,"height":1,"data":{"values":[]},"mark":"point"},
{"width":236,"height":36,"data":{"values":[{"lab":"α : 0.5"}]},"view":{"fill":"#D9D9D9","stroke":"#333333","strokeWidth":1.2},"mark":{"type":"text","fontSize":18.5,"color":"#1A1A1A","font":"Liberation Sans"},"encoding":{"text":{"field":"lab"}}},
{"width":13.4,"height":1,"data":{"values":[]},"mark":"point"},
{"width":236,"height":36,"data":{"values":[{"lab":"α : 1"}]},"view":{"fill":"#D9D9D9","stroke":"#333333","strokeWidth":1.2},"mark":{"type":"text","fontSize":18.5,"color":"#1A1A1A","font":"Liberation Sans"},"encoding":{"text":{"field":"lab"}}},
{"width":1,"height":1,"data":{"values":[]},"mark":"point"},

{"width":236,"height":236,"data":{"name":"p1"},"view":{"fill":"#FFFFFF","stroke":"#333333","strokeWidth":1.2},
 "mark":{"type":"point","shape":"M0,0L1,0M0.56,-0.26L1,0L0.56,0.26","filled":false,"size":1580,"strokeWidth":2,"opacity":1},
 "encoding":{"x":{"field":"n","type":"quantitative","scale":{"domain":[-0.22,4.62],"nice":false,"zero":false},"axis":null},
 "y":{"field":"m","type":"quantitative","scale":{"domain":[-0.2125,4.4625],"nice":false,"zero":false},"axis":{"values":[0,1,2,3,4],"title":"m/1000","titleY":242.7,"titlePadding":13}},
 "angle":{"field":"d","type":"quantitative","scale":{"domain":[0,360],"range":[360,0]}},
 "color":{"field":"g","type":"nominal","scale":{"domain":["n","m"],"range":["#F8766D","#00BFC4"]},"legend":null}}},
{"width":13.4,"height":1,"data":{"values":[]},"mark":"point"},
{"width":236,"height":236,"data":{"name":"p2"},"view":{"fill":"#FFFFFF","stroke":"#333333","strokeWidth":1.2},
 "mark":{"type":"point","shape":"M0,0L1,0M0.56,-0.26L1,0L0.56,0.26","filled":false,"size":1580,"strokeWidth":2,"opacity":1},
 "encoding":{"x":{"field":"n","type":"quantitative","scale":{"domain":[-0.22,4.62],"nice":false,"zero":false},"axis":null},
 "y":{"field":"m","type":"quantitative","scale":{"domain":[-0.2125,4.4625],"nice":false,"zero":false},"axis":null},
 "angle":{"field":"d","type":"quantitative","scale":{"domain":[0,360],"range":[360,0]}},
 "color":{"field":"g","type":"nominal","scale":{"domain":["n","m"],"range":["#F8766D","#00BFC4"]},"legend":null}}},
{"width":13.4,"height":1,"data":{"values":[]},"mark":"point"},
{"width":236,"height":236,"data":{"name":"p3"},"view":{"fill":"#FFFFFF","stroke":"#333333","strokeWidth":1.2},
 "mark":{"type":"point","shape":"M0,0L1,0M0.56,-0.26L1,0L0.56,0.26","filled":false,"size":1580,"strokeWidth":2,"opacity":1},
 "encoding":{"x":{"field":"n","type":"quantitative","scale":{"domain":[-0.22,4.62],"nice":false,"zero":false},"axis":null},
 "y":{"field":"m","type":"quantitative","scale":{"domain":[-0.2125,4.4625],"nice":false,"zero":false},"axis":null},
 "angle":{"field":"d","type":"quantitative","scale":{"domain":[0,360],"range":[360,0]}},
 "color":{"field":"g","type":"nominal","scale":{"domain":["n","m"],"range":["#F8766D","#00BFC4"]},"legend":null}}},
{"width":35,"height":236,"data":{"values":[{"lab":"α̃ : 0.05"}]},"view":{"fill":"#D9D9D9","stroke":"#333333","strokeWidth":1.2},"mark":{"type":"text","fontSize":17.5,"color":"#1A1A1A","font":"DejaVu Sans","angle":90},"encoding":{"text":{"field":"lab"}}},

{"width":1,"height":13.3,"data":{"values":[]},"mark":"point"},
{"width":1,"height":13.3,"data":{"values":[]},"mark":"point"},
{"width":1,"height":13.3,"data":{"values":[]},"mark":"point"},
{"width":1,"height":13.3,"data":{"values":[]},"mark":"point"},
{"width":1,"height":13.3,"data":{"values":[]},"mark":"point"},
{"width":1,"height":13.3,"data":{"values":[]},"mark":"point"},

{"width":236,"height":236,"data":{"name":"p4"},"view":{"fill":"#FFFFFF","stroke":"#333333","strokeWidth":1.2},
 "mark":{"type":"point","shape":"M0,0L1,0M0.56,-0.26L1,0L0.56,0.26","filled":false,"size":1580,"strokeWidth":2,"opacity":1},
 "encoding":{"x":{"field":"n","type":"quantitative","scale":{"domain":[-0.22,4.62],"nice":false,"zero":false},"axis":{"values":[0,1,2,3,4],"title":null}},
 "y":{"field":"m","type":"quantitative","scale":{"domain":[-0.2125,4.4625],"nice":false,"zero":false},"axis":{"values":[0,1,2,3,4],"title":null}},
 "angle":{"field":"d","type":"quantitative","scale":{"domain":[0,360],"range":[360,0]}},
 "color":{"field":"g","type":"nominal","scale":{"domain":["n","m"],"range":["#F8766D","#00BFC4"]},"legend":null}}},
{"width":13.4,"height":1,"data":{"values":[]},"mark":"point"},
{"width":236,"height":236,"data":{"name":"p5"},"view":{"fill":"#FFFFFF","stroke":"#333333","strokeWidth":1.2},
 "mark":{"type":"point","shape":"M0,0L1,0M0.56,-0.26L1,0L0.56,0.26","filled":false,"size":1580,"strokeWidth":2,"opacity":1},
 "encoding":{"x":{"field":"n","type":"quantitative","scale":{"domain":[-0.22,4.62],"nice":false,"zero":false},"axis":{"values":[0,1,2,3,4],"title":"n/1000","titlePadding":8}},
 "y":{"field":"m","type":"quantitative","scale":{"domain":[-0.2125,4.4625],"nice":false,"zero":false},"axis":null},
 "angle":{"field":"d","type":"quantitative","scale":{"domain":[0,360],"range":[360,0]}},
 "color":{"field":"g","type":"nominal","scale":{"domain":["n","m"],"range":["#F8766D","#00BFC4"]},"legend":null}}},
{"width":13.4,"height":1,"data":{"values":[]},"mark":"point"},
{"width":236,"height":236,"data":{"name":"p6"},"view":{"fill":"#FFFFFF","stroke":"#333333","strokeWidth":1.2},
 "mark":{"type":"point","shape":"M0,0L1,0M0.56,-0.26L1,0L0.56,0.26","filled":false,"size":1580,"strokeWidth":2,"opacity":1},
 "encoding":{"x":{"field":"n","type":"quantitative","scale":{"domain":[-0.22,4.62],"nice":false,"zero":false},"axis":{"values":[0,1,2,3,4],"title":null}},
 "y":{"field":"m","type":"quantitative","scale":{"domain":[-0.2125,4.4625],"nice":false,"zero":false},"axis":null},
 "angle":{"field":"d","type":"quantitative","scale":{"domain":[0,360],"range":[360,0]}},
 "color":{"field":"g","type":"nominal","scale":{"domain":["n","m"],"range":["#F8766D","#00BFC4"]},"legend":null}}},
{"width":35,"height":236,"data":{"values":[{"lab":"α̃ : 0.5"}]},"view":{"fill":"#D9D9D9","stroke":"#333333","strokeWidth":1.2},"mark":{"type":"text","fontSize":17.5,"color":"#1A1A1A","font":"DejaVu Sans","angle":90},"encoding":{"text":{"field":"lab"}}}
],
"config":{
 "view":{"stroke":null},
 "font":"Liberation Sans",
 "axis":{"domain":false,"grid":false,"ticks":true,"tickColor":"#333333","tickSize":6,"tickWidth":1.1,"labelColor":"#4D4D4D","labelFontSize":18.5,"labelPadding":4,"labelFont":"Liberation Sans","labelFlush":false,"titleFont":"Liberation Sans","titleFontSize":23,"titleFontWeight":"normal","titleColor":"#000000"}
}
}
